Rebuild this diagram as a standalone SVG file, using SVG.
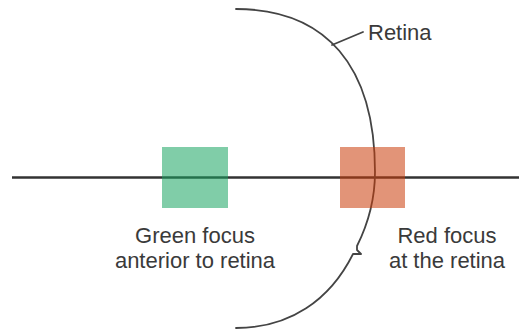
<svg xmlns="http://www.w3.org/2000/svg" width="519" height="331" viewBox="0 0 519 331">
  <style>
    .lbl { font-family: "Liberation Sans", Arial, sans-serif; font-size: 22px; fill: #3a3a3a; }
    .axis { stroke: #333; stroke-width: 2.6; fill: none; }
    .curve { stroke: #444; stroke-width: 1.8; fill: none; stroke-linejoin: round; stroke-linecap: round; }
    .focus { stroke: none; }
  </style>
  <rect width="519" height="331" fill="#fff"/>
  <g id="connectors">
    <line class="axis" x1="12" y1="177.5" x2="519" y2="177.5"/>
    <line class="curve" x1="332" y1="45" x2="363" y2="32"/>
  </g>
  <g id="retina">
    <path class="curve" d="M236 9 C326 9 375 66 375 172 C375 200 369 222 357 246 L357 250 L361 254 L353 254 C330 300 290 328 236 328"/>
    <text class="lbl" x="368" y="40">Retina</text>
  </g>
  <g id="green-focus">
    <rect class="focus" x="162" y="147" width="66" height="61" fill="#18a460" fill-opacity="0.55"/>
    <text class="lbl" text-anchor="middle" x="195" y="243">Green focus</text>
    <text class="lbl" text-anchor="middle" x="195" y="268">anterior to retina</text>
  </g>
  <g id="red-focus">
    <rect class="focus" x="340" y="147" width="65" height="61" fill="#ca3c09" fill-opacity="0.55"/>
    <text class="lbl" text-anchor="middle" x="447" y="243">Red focus</text>
    <text class="lbl" text-anchor="middle" x="447" y="268">at the retina</text>
  </g>
</svg>
